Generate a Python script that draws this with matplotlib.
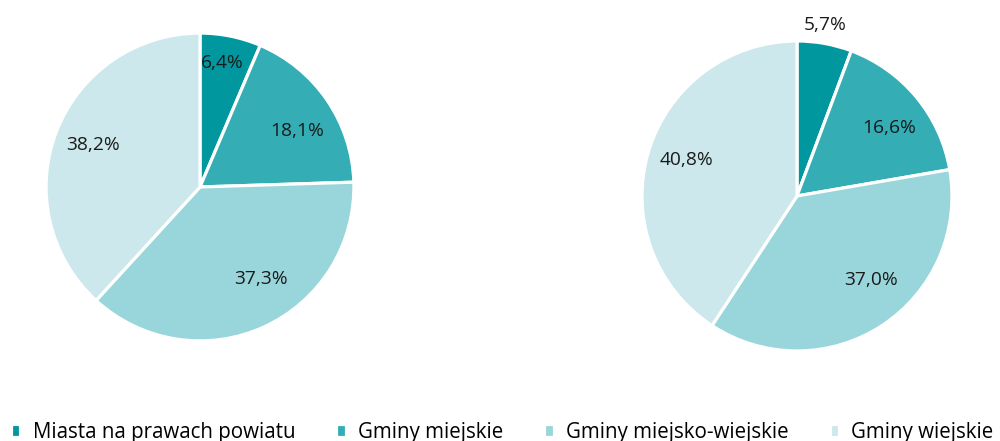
import numpy as np
import matplotlib.pyplot as plt

plt.rcParams['font.family'] = ['Open Sans', 'DejaVu Sans']

categories = ["Miasta na prawach powiatu", "Gminy miejskie",
              "Gminy miejsko-wiejskie", "Gminy wiejskie"]
left_values = [6.4, 18.1, 37.3, 38.2]
right_values = [5.7, 16.6, 37.0, 40.8]

colors = ["#00979f", "#34adb5", "#99d6db", "#cce8ec"]


def fmt(v):
    return f"{v:.1f}".replace(".", ",") + "%"


def draw_pie(ax, values, dists, shifts):
    # dists: label radius, shifts: angle tweak (deg, clockwise)
    wedges, _ = ax.pie(values, colors=colors, startangle=90, counterclock=False,
                       wedgeprops=dict(edgecolor="white", linewidth=2.3))
    for w, v, d, s in zip(wedges, values, dists, shifts):
        ang = np.deg2rad((w.theta1 + w.theta2) / 2 - s)
        ax.text(d * np.cos(ang), d * np.sin(ang), fmt(v), ha="center", va="center",
                fontsize=13.8, color="#1a1a1a")
    ax.set_xlim(-1, 1)
    ax.set_ylim(-1, 1)
    return wedges


fig = plt.figure(figsize=(10, 4.41), dpi=100)

ax1 = fig.add_axes([0.2 - 0.154, 0.576 - 0.349, 0.308, 0.698])
wedges = draw_pie(ax1, left_values, [0.82, 0.73, 0.72, 0.745], [-1.5, 4.5, -9, 0])

ax2 = fig.add_axes([0.797 - 0.155, 0.5556 - 0.3515, 0.31, 0.703])
draw_pie(ax2, right_values, [1.12, 0.74, 0.72, 0.75], [-1, 3, -8, 1.5])

fig.legend(wedges, categories, loc="center left", bbox_to_anchor=(0.011, 0.02),
           ncol=4, frameon=False, fontsize=14.8, handlelength=0.45, handleheight=0.6,
           handletextpad=0.6, columnspacing=2.0, borderaxespad=0, borderpad=0)

fig.savefig("out.png", dpi=100)
